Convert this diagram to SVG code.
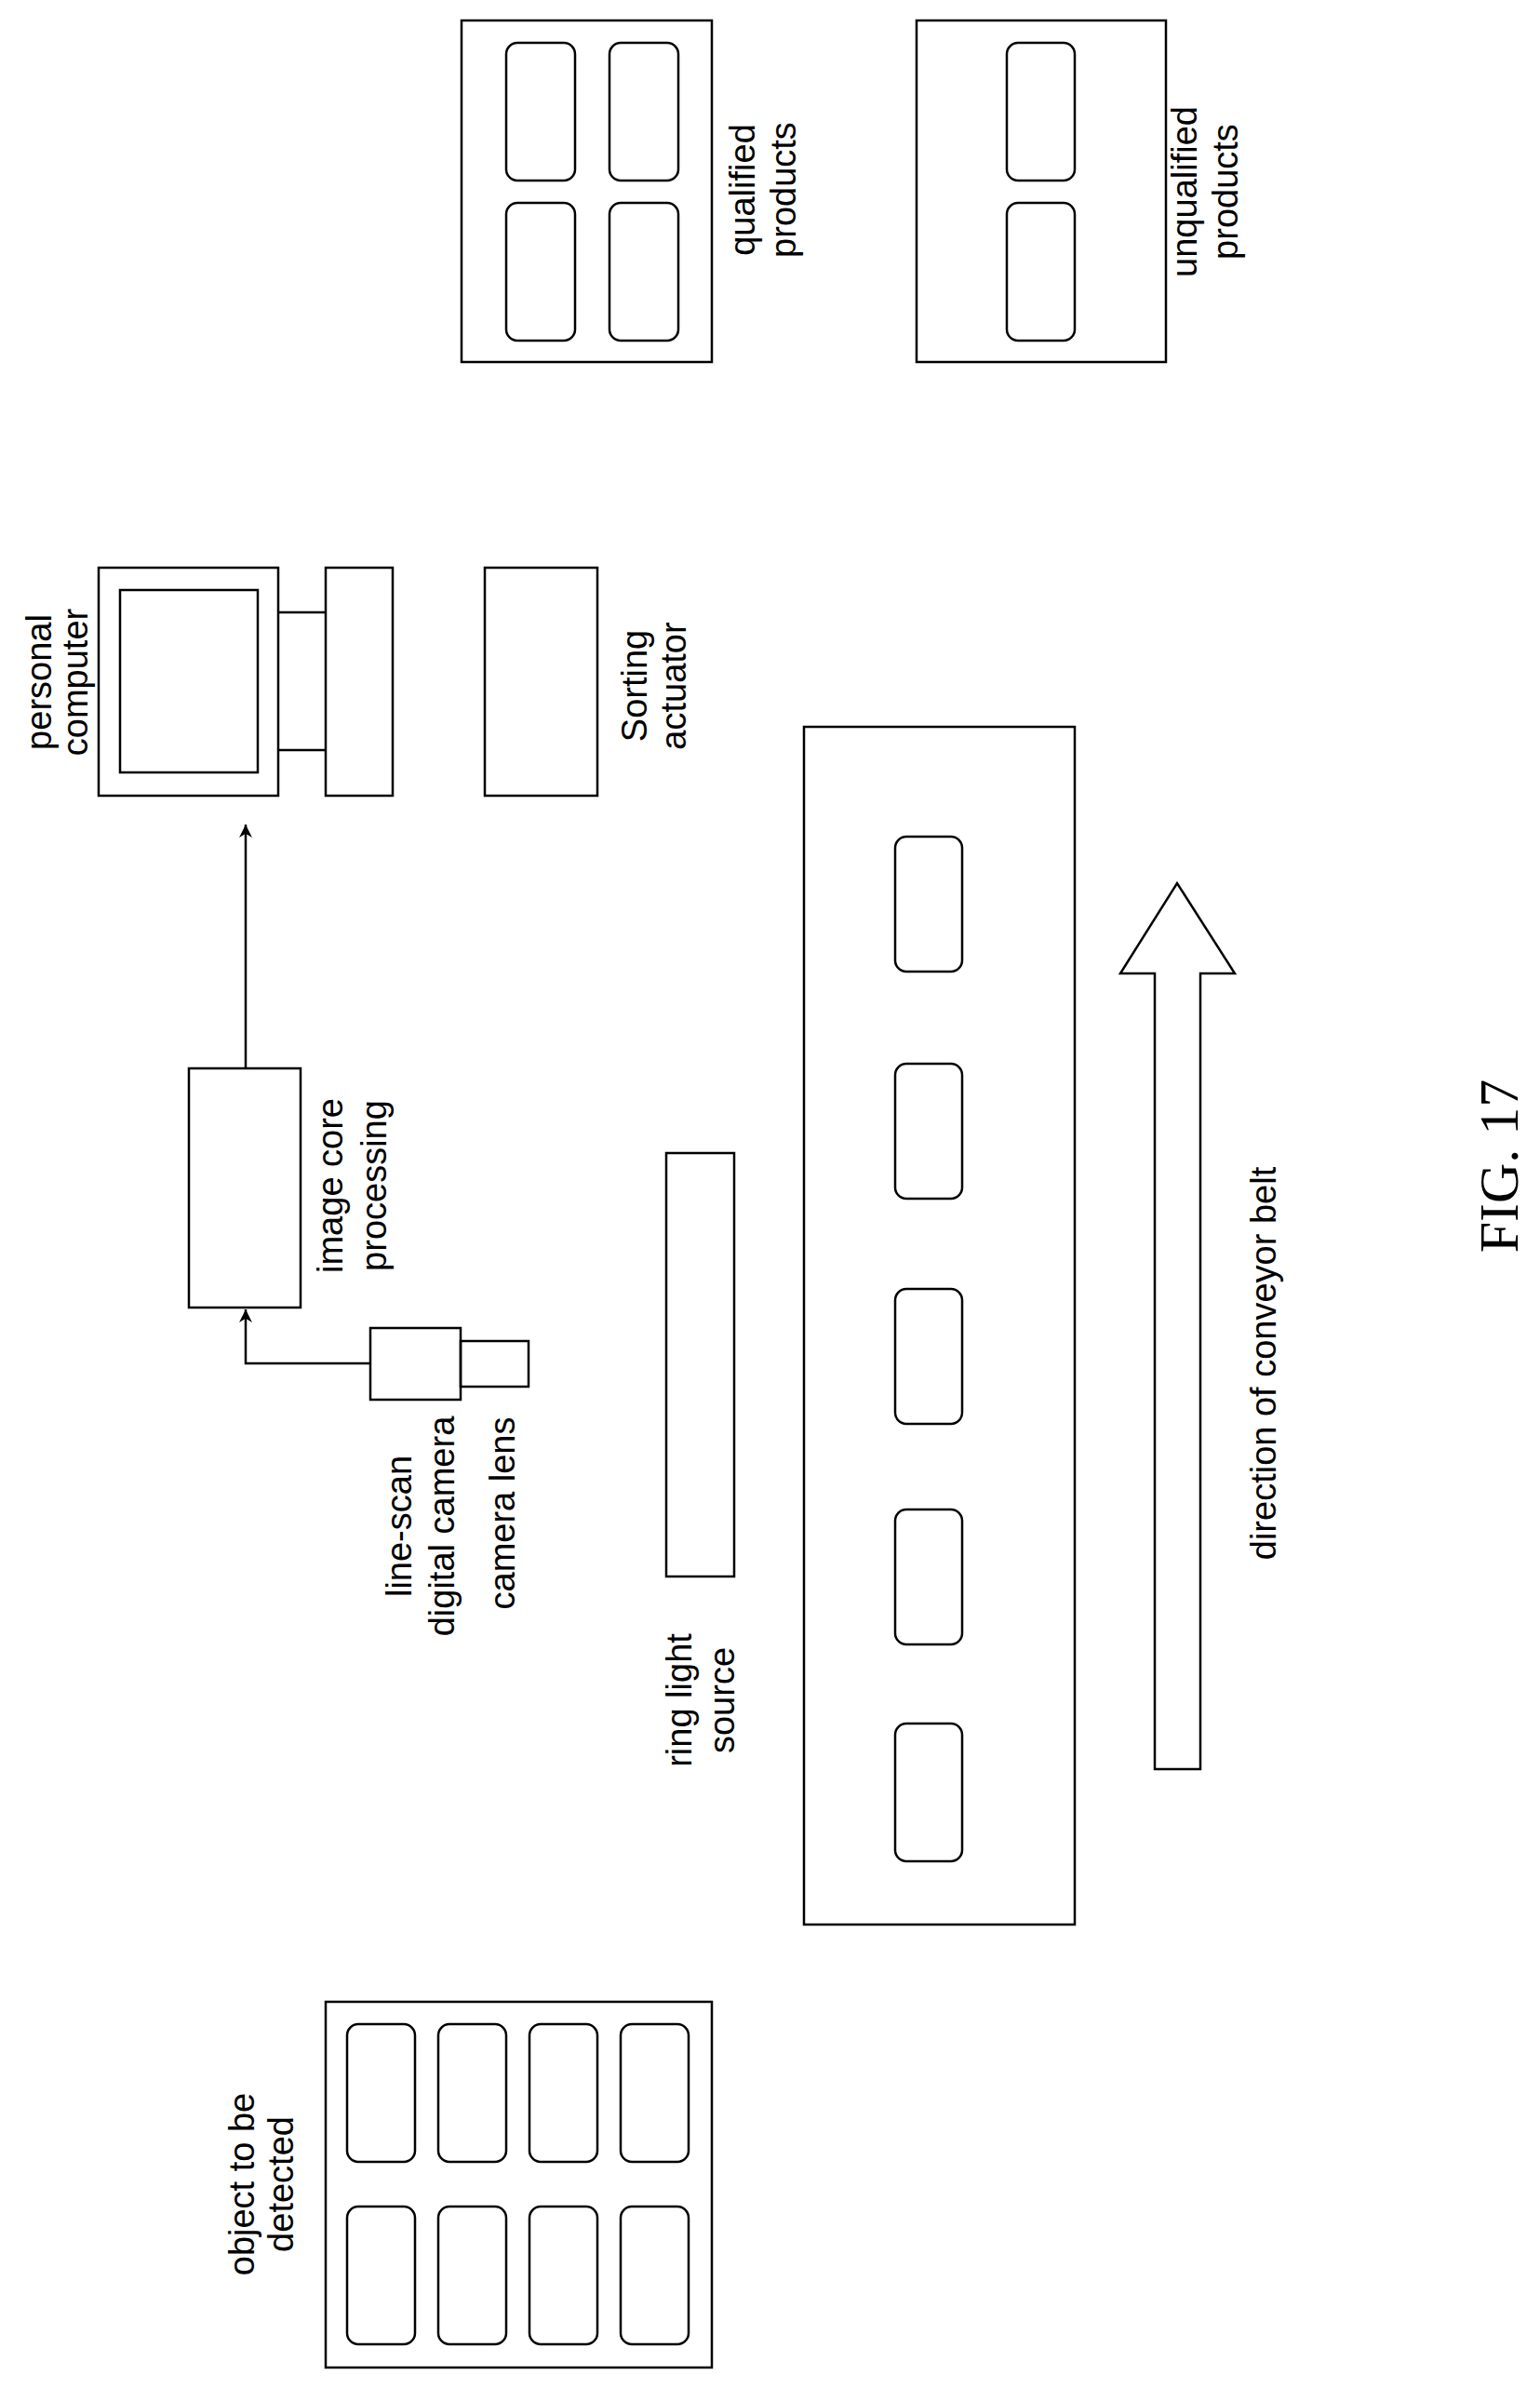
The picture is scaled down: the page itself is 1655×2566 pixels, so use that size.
<svg xmlns="http://www.w3.org/2000/svg" width="1655" height="2566" viewBox="0 0 1655 2566">
<style>
.b{fill:none;stroke:#000;stroke-width:2.5}
.r{fill:none;stroke:#000;stroke-width:2.5}
.t{font-family:"Liberation Sans",Arial,sans-serif;font-size:38px;text-anchor:middle;fill:#000}
.c{stroke:#000;stroke-width:2.5;fill:none}
</style>
<defs>
<marker id="ah" markerWidth="14" markerHeight="16" refX="10" refY="5" orient="auto" markerUnits="userSpaceOnUse" viewBox="0 0 10 10">
<path d="M0,0 L10,5 L0,10 L3,5 z" fill="#000"/>
</marker>
</defs>
<rect width="1655" height="2566" fill="#fff"/>
<g id="qualified">
<rect class="b" x="496" y="22" width="269" height="367"/>
<rect class="r" x="544" y="46" width="74" height="148" rx="12"/>
<rect class="r" x="655" y="46" width="74" height="148" rx="12"/>
<rect class="r" x="544" y="218" width="74" height="148" rx="12"/>
<rect class="r" x="655" y="218" width="74" height="148" rx="12"/>
<text class="t" transform="translate(811,204) rotate(-90)"><tspan x="0" y="0">qualified</tspan><tspan x="0" dy="44">products</tspan></text>
</g>
<g id="unqualified">
<rect class="b" x="985" y="22" width="268" height="367"/>
<rect class="r" x="1082" y="46" width="73" height="148" rx="12"/>
<rect class="r" x="1082" y="218" width="73" height="148" rx="12"/>
<text class="t" transform="translate(1286,206) rotate(-90)"><tspan x="0" y="0">unqualified</tspan><tspan x="0" dy="44">products</tspan></text>
</g>
<g id="pc">
<rect class="b" x="106" y="610" width="193" height="245"/>
<rect class="b" x="129" y="634" width="148" height="196"/>
<rect class="b" x="350" y="610" width="72" height="245"/>
<line class="c" x1="299" y1="658" x2="350" y2="658"/>
<line class="c" x1="299" y1="806" x2="350" y2="806"/>
<text class="t" transform="translate(55,733) rotate(-90)"><tspan x="0" y="0">personal</tspan><tspan x="0" dy="39">computer</tspan></text>
</g>
<g id="sorting">
<rect class="b" x="521" y="610" width="121" height="245"/>
<text class="t" transform="translate(695,737) rotate(-90)"><tspan x="0" y="0">Sorting</tspan><tspan x="0" dy="42">actuator</tspan></text>
</g>
<g id="imagecore">
<rect class="b" x="203" y="1148" width="120" height="257"/>
<text class="t" transform="translate(368,1274) rotate(-90)"><tspan x="0" y="0">image core</tspan><tspan x="0" dy="47">processing</tspan></text>
</g>
<g id="camera">
<rect class="b" x="398" y="1427" width="97" height="77"/>
<rect class="b" x="495" y="1441" width="73" height="49"/>
<text class="t" transform="translate(442,1640) rotate(-90)"><tspan x="0" y="0">line-scan</tspan><tspan x="0" dy="46">digital camera</tspan></text>
<text class="t" transform="translate(553,1626) rotate(-90)">camera lens</text>
</g>
<g id="ringlight">
<rect class="b" x="716" y="1239" width="73" height="455"/>
<text class="t" transform="translate(743,1827) rotate(-90)"><tspan x="0" y="0">ring light</tspan><tspan x="0" dy="46">source</tspan></text>
</g>
<g id="conveyor">
<rect class="b" x="864" y="781" width="291" height="1287"/>
<rect class="r" x="962" y="899" width="72" height="145" rx="12"/>
<rect class="r" x="962" y="1143" width="72" height="145" rx="12"/>
<rect class="r" x="962" y="1385" width="72" height="145" rx="12"/>
<rect class="r" x="962" y="1622" width="72" height="145" rx="12"/>
<rect class="r" x="962" y="1852" width="72" height="148" rx="12"/>
</g>
<g id="direction">
<path class="b" d="M1241,1901 L1241,1046 L1204,1046 L1265,949 L1327,1046 L1290,1046 L1290,1901 Z"/>
<text class="t" transform="translate(1371,1465) rotate(-90)">direction of conveyor belt</text>
</g>
<g id="object">
<rect class="b" x="350" y="2151" width="415" height="393"/>
<rect class="r" x="373" y="2175" width="73" height="148" rx="12"/>
<rect class="r" x="471" y="2175" width="73" height="148" rx="12"/>
<rect class="r" x="569" y="2175" width="73" height="148" rx="12"/>
<rect class="r" x="667" y="2175" width="73" height="148" rx="12"/>
<rect class="r" x="373" y="2371" width="73" height="148" rx="12"/>
<rect class="r" x="471" y="2371" width="73" height="148" rx="12"/>
<rect class="r" x="569" y="2371" width="73" height="148" rx="12"/>
<rect class="r" x="667" y="2371" width="73" height="148" rx="12"/>
<text class="t" transform="translate(273,2347) rotate(-90)"><tspan x="0" y="0">object to be</tspan><tspan x="0" dy="42">detected</tspan></text>
</g>
<g id="connectors">
<polyline class="c" points="398,1465 264,1465 264,1407" marker-end="url(#ah)"/>
<line class="c" x1="264" y1="1148" x2="264" y2="886" marker-end="url(#ah)"/>
</g>
<text transform="translate(1631,1253) rotate(-90)" style="font-family:'Liberation Serif','Times New Roman',serif;font-size:60px;text-anchor:middle">FIG. 17</text>
</svg>
